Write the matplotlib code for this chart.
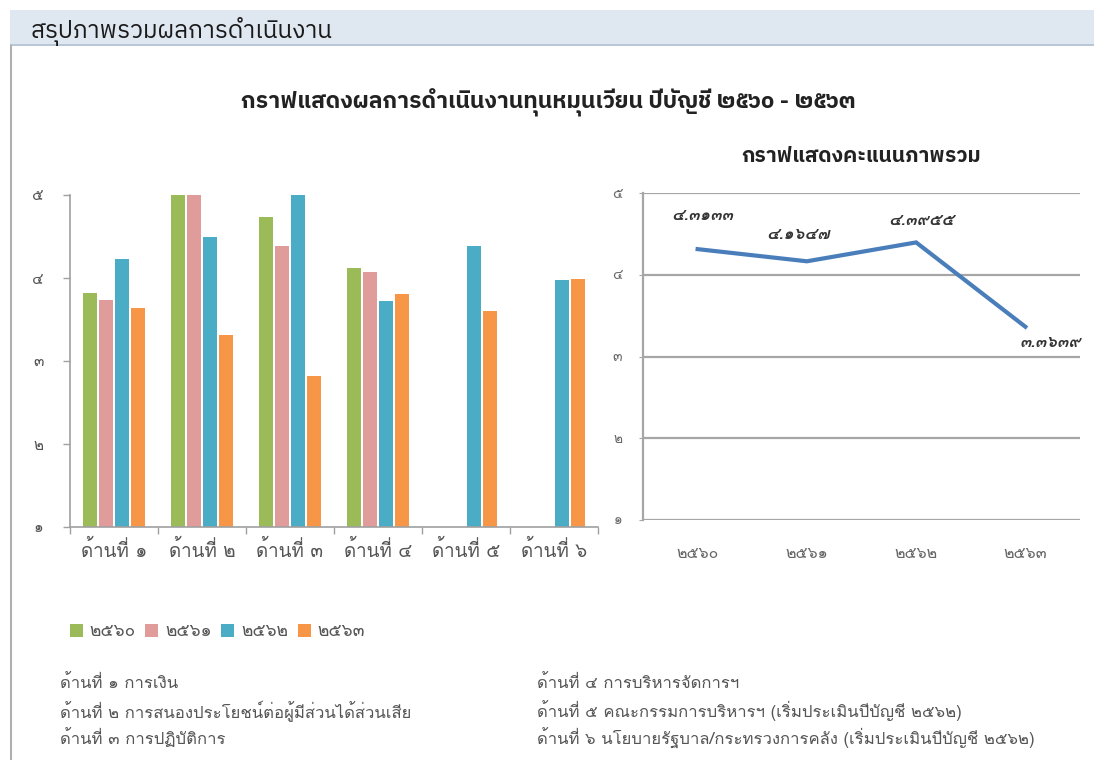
import numpy as np
import matplotlib
matplotlib.use('Agg')
import matplotlib.pyplot as plt
from matplotlib.patches import Rectangle

plt.rcParams['font.family'] = ['Loma', 'DejaVu Sans']
TITLE_FONT = ['IBM Plex Sans Thai', 'Loma', 'DejaVu Sans']

# ---- data ----
categories = ['ด้านที่ ๑', 'ด้านที่ ๒', 'ด้านที่ ๓', 'ด้านที่ ๔', 'ด้านที่ ๕', 'ด้านที่ ๖']
series_names = ['๒๕๖๐', '๒๕๖๑', '๒๕๖๒', '๒๕๖๓']
v2560 = [3.82, 5.00, 4.74, 4.12, np.nan, np.nan]
v2561 = [3.73, 5.00, 4.39, 4.07, np.nan, np.nan]
v2562 = [4.23, 4.50, 5.00, 3.72, 4.38, 3.98]
v2563 = [3.64, 3.31, 2.82, 3.81, 3.60, 3.99]
ytick_vals = [1, 2, 3, 4, 5]
ytick_labels = ['๑', '๒', '๓', '๔', '๕']

years = ['๒๕๖๐', '๒๕๖๑', '๒๕๖๒', '๒๕๖๓']
overall = [4.3133, 4.1647, 4.3955, 3.3639]
overall_labels = ['๔.๓๑๓๓', '๔.๑๖๔๗', '๔.๓๙๕๕', '๓.๓๖๓๙']

notes_left = ['ด้านที่ ๑ การเงิน',
              'ด้านที่ ๒ การสนองประโยชน์ต่อผู้มีส่วนได้ส่วนเสีย',
              'ด้านที่ ๓ การปฏิบัติการ']
notes_right = ['ด้านที่ ๔ การบริหารจัดการฯ',
               'ด้านที่ ๕ คณะกรรมการบริหารฯ (เริ่มประเมินปีบัญชี ๒๕๖๒)',
               'ด้านที่ ๖ นโยบายรัฐบาล/กระทรวงการคลัง (เริ่มประเมินปีบัญชี ๒๕๖๒)']

colors = ['#9bbb59', '#e09c9a', '#4bacc6', '#f79646']
W, H = 1094, 760

fig = plt.figure(figsize=(W / 100, H / 100), dpi=100)
fig.patch.set_facecolor('white')

def fx(px):
    return px / W

def fy(py):
    return 1 - py / H

# header band
fig.patches.append(Rectangle((fx(10), fy(46)), fx(1084), 36 / H, transform=fig.transFigure,
                             facecolor='#dfe7f1', edgecolor='none', zorder=0))
fig.patches.append(Rectangle((fx(10), fy(46)), fx(1084), 1.5 / H, transform=fig.transFigure,
                             facecolor='#b9c6d6', edgecolor='none', zorder=1))
fig.lines.append(plt.Line2D([fx(10.5), fx(10.5)], [fy(46), 0], transform=fig.transFigure,
                            color='#b0b0b0', lw=1.5))
fig.text(fx(31), fy(31), 'สรุปภาพรวมผลการดำเนินงาน', fontsize=17.5, color='#1a1a1a',
         va='center', ha='left', family=TITLE_FONT)

fig.text(fx(548), fy(103), 'กราฟแสดงผลการดำเนินงานทุนหมุนเวียน ปีบัญชี ๒๕๖๐ - ๒๕๖๓',
         fontsize=16.5, color='#222222', ha='center', va='center', fontweight='bold',
         family=TITLE_FONT)

# ---- bar chart ----
ax = fig.add_axes([fx(70), fy(527), fx(598 - 70), (527 - 195) / H])
x = np.arange(len(categories))
offsets = [-0.273, -0.091, 0.091, 0.273]
for vals, off, c, name in zip([v2560, v2561, v2562, v2563], offsets, colors, series_names):
    ax.bar(x + 0.5 + off, vals, width=0.15, color=c, label=name, zorder=2)
ax.set_xlim(0, len(categories))
ax.set_ylim(1, 5)
ax.set_yticks(ytick_vals)
ax.set_yticklabels(ytick_labels)
ax.set_xticks(np.arange(len(categories) + 1))
ax.set_xticklabels([])
ax.set_xticks(x + 0.5, minor=True)
ax.set_xticklabels(categories, minor=True)
ax.tick_params(axis='x', which='major', length=5, color='#a0a0a0', width=1)
ax.tick_params(axis='x', which='minor', length=0, pad=9, labelsize=13.5, labelcolor='#555555')
ax.tick_params(axis='y', length=5, color='#a0a0a0', width=1, pad=14, labelsize=11,
               labelcolor='#555555')
for s in ['top', 'right']:
    ax.spines[s].set_visible(False)
for s in ['left', 'bottom']:
    ax.spines[s].set_color('#a0a0a0')
    ax.spines[s].set_linewidth(1.2)
ax.set_facecolor('none')

leg = fig.legend(*ax.get_legend_handles_labels(), loc='center left',
                 bbox_to_anchor=(fx(54), fy(632)), ncol=4, frameon=False, fontsize=12.5,
                 handlelength=0.75, handleheight=0.75, handletextpad=0.4, columnspacing=0.55,
                 labelcolor='#555555')

# ---- line chart ----
ax2 = fig.add_axes([fx(643), fy(520), fx(1080 - 643), (520 - 193) / H])
xi = np.arange(len(years))
ax2.plot(xi, overall, color='#4a7ebb', lw=3, zorder=3, solid_joinstyle='miter')
ax2.set_xlim(-0.5, len(years) - 0.5)
ax2.set_ylim(1, 5)
ax2.set_yticks(ytick_vals)
ax2.set_yticklabels(ytick_labels)
ax2.set_xticks(xi)
ax2.set_xticklabels(years)
ax2.grid(axis='y', color='#a6a6a6', lw=1.6, zorder=0)
ax2.tick_params(axis='x', length=0, pad=19, labelsize=11.5, labelcolor='#666666')
ax2.tick_params(axis='y', length=3, color='#a6a6a6', pad=12, labelsize=10, labelcolor='#666666')
for s in ['top', 'right', 'bottom']:
    ax2.spines[s].set_visible(False)
ax2.spines['left'].set_color('#a6a6a6')
ax2.spines['left'].set_linewidth(1.6)
ax2.set_facecolor('none')
label_offsets = [(3, 24), (-6.5, 19), (3.6, 16), (18, -11.5)]
for i, (v, lab, off) in enumerate(zip(overall, overall_labels, label_offsets)):
    ax2.annotate(lab, (i, v), xytext=off, textcoords='offset points', ha='center',
                 va='center', fontsize=12, color='#333333', fontstyle='italic',
                 fontweight='bold')
ax2.set_title('กราฟแสดงคะแนนภาพรวม', fontsize=15, color='#222222', pad=22,
              fontweight='bold', family=TITLE_FONT)

# ---- notes ----
for i, t in enumerate(notes_left):
    fig.text(fx(60), fy(684 + 27 * i), t, fontsize=12, color='#555555', va='center')
for i, t in enumerate(notes_right):
    fig.text(fx(537), fy(684 + 27 * i), t, fontsize=12, color='#555555', va='center')

fig.savefig('out.png', dpi=100)
